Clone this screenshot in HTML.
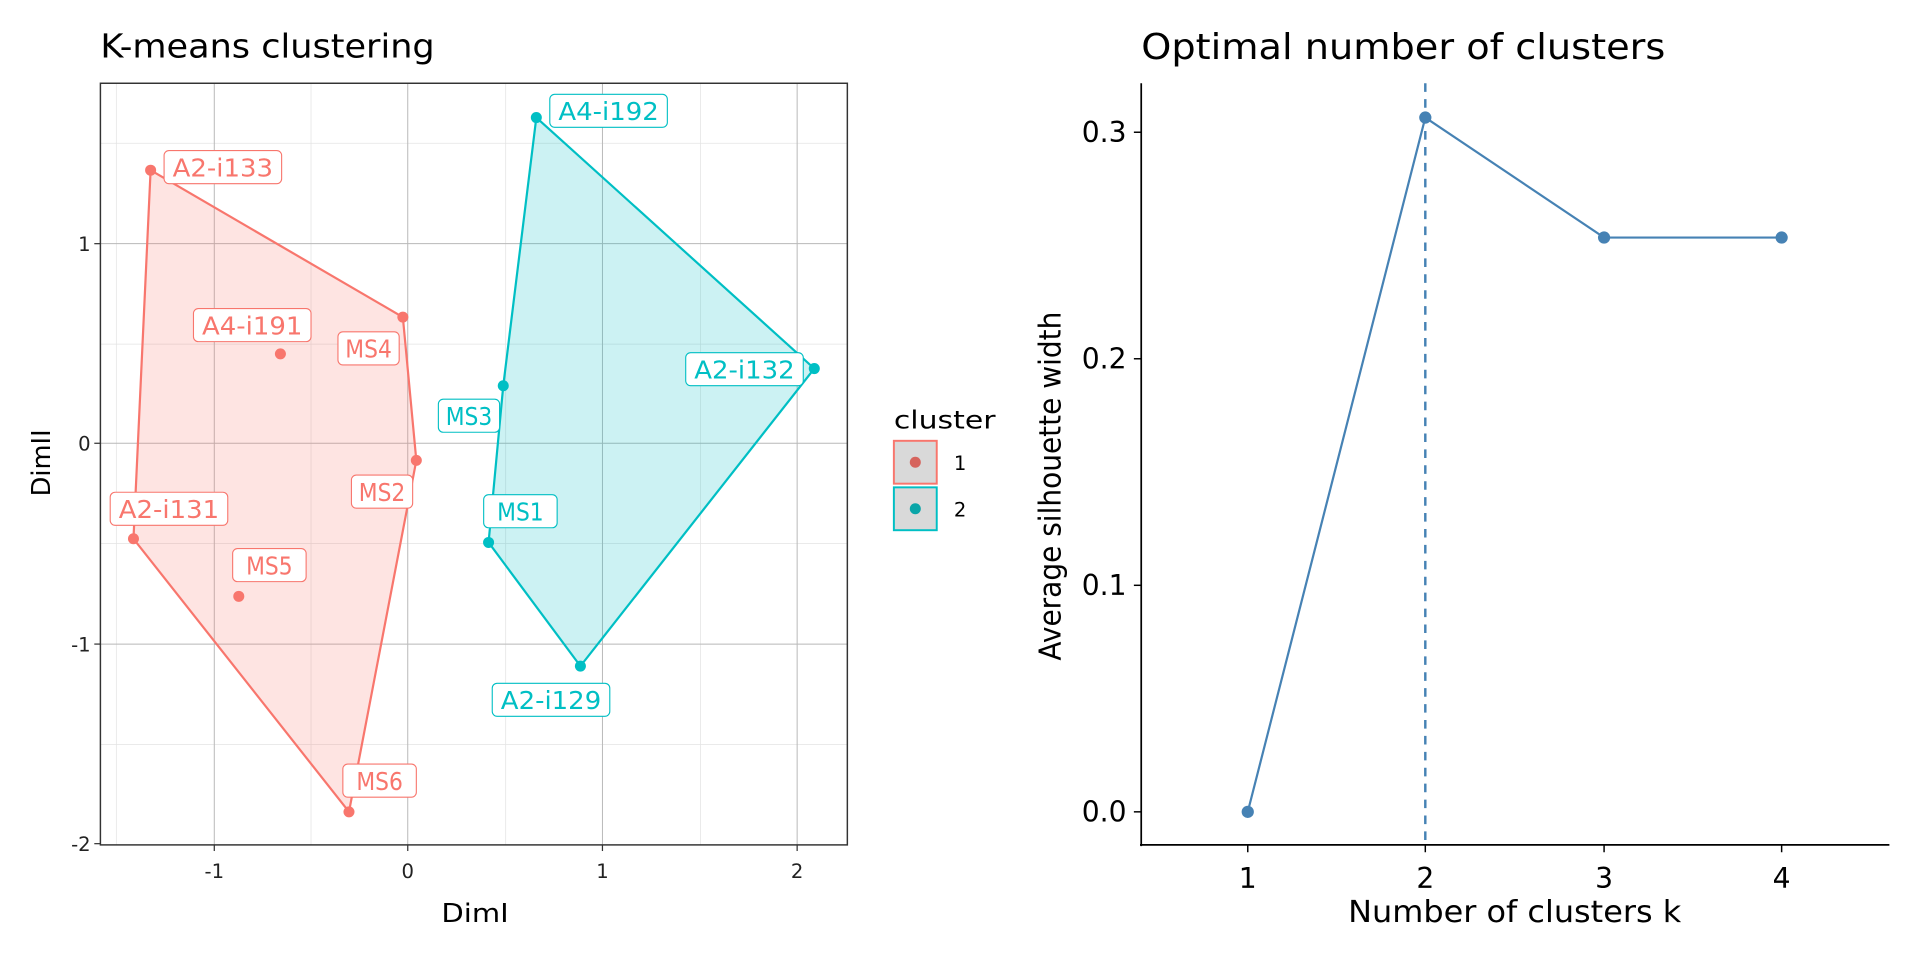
<!DOCTYPE html>
<html><head><meta charset="utf-8"><style>html,body{margin:0;padding:0;background:#fff}svg{display:block}text{font-family:"DejaVu Sans","Liberation Sans",sans-serif}</style></head>
<body>
<svg width="1920" height="960" viewBox="0 0 1568 784" xmlns="http://www.w3.org/2000/svg">
<rect width="1568" height="784" fill="#fff"/>
<!-- LEFT PANEL -->
<text x="82" y="47" font-size="27" textLength="273" lengthAdjust="spacingAndGlyphs" fill="#000">K-means clustering</text>
<g stroke="#e3e3e3" stroke-width="0.6">
<line x1="95" y1="68" x2="95" y2="690"/><line x1="254" y1="68" x2="254" y2="690"/><line x1="413" y1="68" x2="413" y2="690"/><line x1="572" y1="68" x2="572" y2="690"/>
<line x1="82" y1="117" x2="692" y2="117"/><line x1="82" y1="281" x2="692" y2="281"/><line x1="82" y1="444" x2="692" y2="444"/><line x1="82" y1="608" x2="692" y2="608"/>
</g>
<g stroke="#b8b8b8" stroke-width="0.8">
<line x1="175" y1="68" x2="175" y2="690"/><line x1="333" y1="68" x2="333" y2="690"/><line x1="492" y1="68" x2="492" y2="690"/><line x1="651" y1="68" x2="651" y2="690"/>
<line x1="82" y1="199" x2="692" y2="199"/><line x1="82" y1="362" x2="692" y2="362"/><line x1="82" y1="526" x2="692" y2="526"/>
</g>
<polygon points="123,139 329,259 340,376 285,663 109,440" fill="#F8766D" fill-opacity="0.2" stroke="#F8766D" stroke-width="1.8"/>
<polygon points="438,96 665,301 474,544 399,443 411,315" fill="#00BFC4" fill-opacity="0.2" stroke="#00BFC4" stroke-width="1.8"/>
<g fill="#F8766D">
<circle cx="123" cy="139" r="4.5"/><circle cx="329" cy="259" r="4.5"/><circle cx="229" cy="289" r="4.5"/><circle cx="340" cy="376" r="4.5"/><circle cx="109" cy="440" r="4.5"/><circle cx="195" cy="487" r="4.5"/><circle cx="285" cy="663" r="4.5"/>
</g>
<g fill="#00BFC4">
<circle cx="438" cy="96" r="4.5"/><circle cx="665" cy="301" r="4.5"/><circle cx="411" cy="315" r="4.5"/><circle cx="399" cy="443" r="4.5"/><circle cx="474" cy="544" r="4.5"/>
</g>
<g font-size="20" text-anchor="middle">
<g fill="#fff" stroke="#F8766D" stroke-width="0.9">
<rect x="134" y="123" width="96" height="27" rx="4"/><rect x="158" y="252" width="96" height="27" rx="4"/><rect x="276" y="271" width="50" height="27" rx="4"/><rect x="287" y="388" width="50" height="27" rx="4"/><rect x="90" y="402" width="96" height="27" rx="4"/><rect x="190" y="448" width="60" height="27" rx="4"/><rect x="280" y="624" width="60" height="27" rx="4"/>
</g>
<g fill="#fff" stroke="#00BFC4" stroke-width="0.9">
<rect x="449" y="77" width="96" height="27" rx="4"/><rect x="560" y="288" width="96" height="27" rx="4"/><rect x="358" y="326" width="50" height="27" rx="4"/><rect x="395" y="404" width="60" height="27" rx="4"/><rect x="402" y="558" width="96" height="27" rx="4"/>
</g>
<g fill="#F8766D">
<text x="182" y="144" textLength="82" lengthAdjust="spacingAndGlyphs">A2-i133</text><text x="206" y="273" textLength="82" lengthAdjust="spacingAndGlyphs">A4-i191</text><text x="301" y="292" textLength="38" lengthAdjust="spacingAndGlyphs">MS4</text><text x="312" y="409" textLength="38" lengthAdjust="spacingAndGlyphs">MS2</text><text x="138" y="423" textLength="82" lengthAdjust="spacingAndGlyphs">A2-i131</text><text x="220" y="469" textLength="38" lengthAdjust="spacingAndGlyphs">MS5</text><text x="310" y="645" textLength="38" lengthAdjust="spacingAndGlyphs">MS6</text>
</g>
<g fill="#00BFC4">
<text x="497" y="98" textLength="82" lengthAdjust="spacingAndGlyphs">A4-i192</text><text x="608" y="309" textLength="82" lengthAdjust="spacingAndGlyphs">A2-i132</text><text x="383" y="347" textLength="38" lengthAdjust="spacingAndGlyphs">MS3</text><text x="425" y="425" textLength="38" lengthAdjust="spacingAndGlyphs">MS1</text><text x="450" y="579" textLength="82" lengthAdjust="spacingAndGlyphs">A2-i129</text>
</g>
</g>
<rect x="82" y="68" width="610" height="622" fill="none" stroke="#333" stroke-width="1.2"/>
<g stroke="#333" stroke-width="1">
<line x1="175" y1="690" x2="175" y2="695"/><line x1="333" y1="690" x2="333" y2="695"/><line x1="492" y1="690" x2="492" y2="695"/><line x1="651" y1="690" x2="651" y2="695"/>
<line x1="77" y1="199" x2="82" y2="199"/><line x1="77" y1="362" x2="82" y2="362"/><line x1="77" y1="526" x2="82" y2="526"/><line x1="77" y1="689" x2="82" y2="689"/>
</g>
<g font-size="16" fill="#222" text-anchor="middle">
<text x="175" y="717">-1</text><text x="333" y="717">0</text><text x="492" y="717">1</text><text x="651" y="717">2</text>
</g>
<g font-size="16" fill="#222" text-anchor="end">
<text x="74" y="205">1</text><text x="74" y="368">0</text><text x="74" y="532">-1</text><text x="74" y="695">-2</text>
</g>
<text x="388" y="753" font-size="21" text-anchor="middle" textLength="55" lengthAdjust="spacingAndGlyphs">DimI</text>
<text transform="translate(41,378) rotate(-90)" font-size="21" text-anchor="middle">DimII</text>
<!-- legend -->
<text x="730" y="350" font-size="20" textLength="83" lengthAdjust="spacingAndGlyphs">cluster</text>
<rect x="730" y="360" width="35" height="35" fill="#d9d9d9" stroke="#F8766D" stroke-width="1.6"/>
<circle cx="747.5" cy="377.5" r="4.5" fill="#D6645D"/>
<rect x="730" y="398" width="35" height="35" fill="#d9d9d9" stroke="#00BFC4" stroke-width="1.6"/>
<circle cx="747.5" cy="415.5" r="4.5" fill="#0AA5A8"/>
<text x="779" y="384" font-size="16">1</text>
<text x="779" y="422" font-size="16">2</text>
<!-- RIGHT PANEL -->
<text x="932" y="48" font-size="29" textLength="428" lengthAdjust="spacingAndGlyphs">Optimal number of clusters</text>
<line x1="1164" y1="68" x2="1164" y2="690" stroke="#4682B4" stroke-width="2" stroke-dasharray="7,6"/>
<polyline points="1019,663 1164,96 1310,194 1455,194" fill="none" stroke="#4682B4" stroke-width="1.8"/>
<g fill="#4682B4"><circle cx="1019" cy="663" r="5"/><circle cx="1164" cy="96" r="5"/><circle cx="1310" cy="194" r="5"/><circle cx="1455" cy="194" r="5"/></g>
<line x1="932" y1="68" x2="932" y2="691" stroke="#000" stroke-width="1.4"/>
<line x1="931" y1="690" x2="1543" y2="690" stroke="#000" stroke-width="1.4"/>
<g stroke="#000" stroke-width="1.2">
<line x1="1019" y1="690" x2="1019" y2="696"/><line x1="1164" y1="690" x2="1164" y2="696"/><line x1="1310" y1="690" x2="1310" y2="696"/><line x1="1455" y1="690" x2="1455" y2="696"/>
<line x1="926" y1="663" x2="932" y2="663"/><line x1="926" y1="478" x2="932" y2="478"/><line x1="926" y1="293" x2="932" y2="293"/><line x1="926" y1="108" x2="932" y2="108"/>
</g>
<g font-size="23" text-anchor="middle">
<text x="1019" y="725">1</text><text x="1164" y="725">2</text><text x="1310" y="725">3</text><text x="1455" y="725">4</text>
</g>
<g font-size="23" text-anchor="end">
<text x="920" y="671">0.0</text><text x="920" y="486">0.1</text><text x="920" y="301">0.2</text><text x="920" y="116">0.3</text>
</g>
<text x="1237" y="753" font-size="25" text-anchor="middle" textLength="272" lengthAdjust="spacingAndGlyphs">Number of clusters k</text>
<text transform="translate(866,397) rotate(-90)" font-size="25" text-anchor="middle" textLength="285" lengthAdjust="spacingAndGlyphs">Average silhouette width</text>
</svg>
</body></html>
